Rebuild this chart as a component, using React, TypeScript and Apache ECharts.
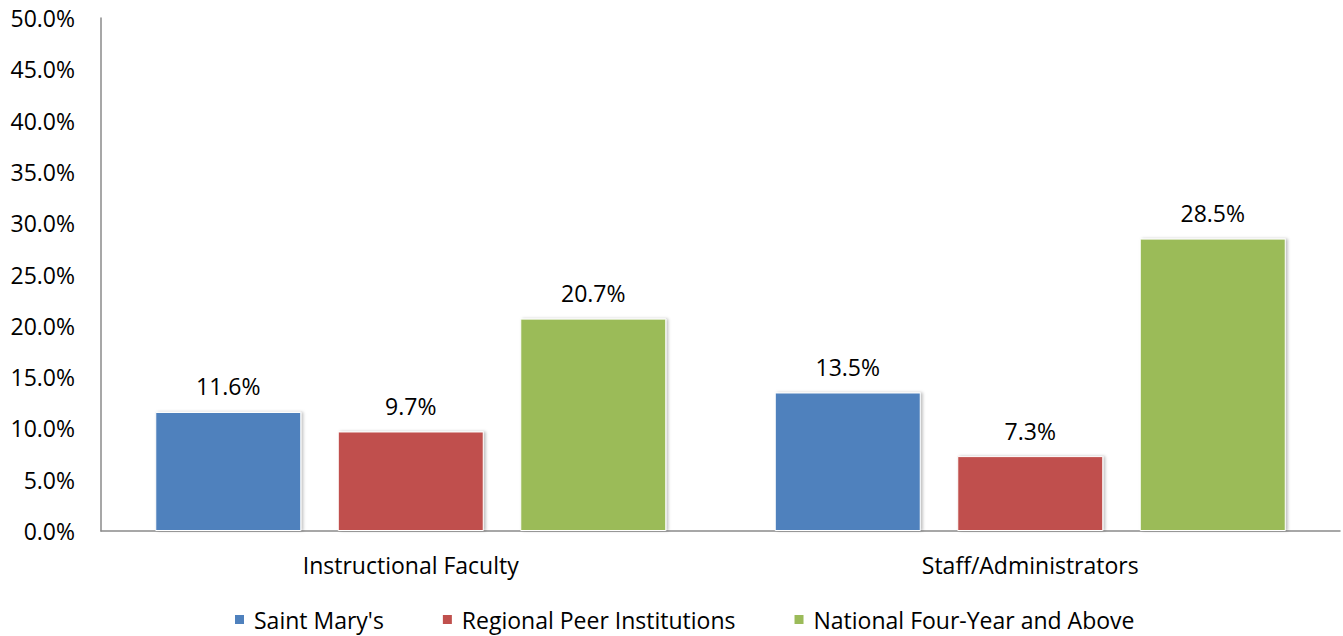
import React, { useEffect, useRef } from "react";
import * as echarts from "echarts";

const categories = ["Instructional Faculty", "Staff/Administrators"];
const seriesNames = ["Saint Mary's", "Regional Peer Institutions", "National Four-Year and Above"];
const saintMarys = [11.6, 13.5];
const regionalPeer = [9.7, 7.3];
const nationalFourYear = [20.7, 28.5];
const colors = ["#4F81BD", "#C0504D", "#9BBB59"];

const FONT = "'Open Sans', sans-serif";
const FS = 23;

export default function App() {
  const ref = useRef<HTMLDivElement>(null);
  useEffect(() => {
    if (!ref.current) return;
    const chart = echarts.init(ref.current, undefined, { renderer: "svg" });
    const dataSets = [saintMarys, regionalPeer, nationalFourYear];
    chart.setOption({
      animation: false,
      textStyle: { fontFamily: FONT },
      grid: { left: 101, right: 3, top: 18, bottom: 105, containLabel: false },
      legend: {
        bottom: 0,
        left: 228,
        itemWidth: 11,
        itemHeight: 11,
        itemGap: 57,
        icon: "rect",
        textStyle: { fontFamily: FONT, fontSize: FS, color: "#000", padding: [0, 0, 0, 4] },
        data: seriesNames,
      },
      xAxis: {
        type: "category",
        data: categories,
        axisTick: { show: false },
        axisLine: { lineStyle: { color: "#8a8a8a", width: 1.5 } },
        axisLabel: { fontFamily: FONT, fontSize: FS, color: "#000", margin: 22 },
      },
      yAxis: {
        type: "value",
        min: 0,
        max: 50,
        interval: 5,
        axisLine: { show: true, lineStyle: { color: "#8a8a8a", width: 1.5 } },
        axisTick: { show: false },
        splitLine: { show: false },
        axisLabel: {
          fontFamily: FONT,
          fontSize: FS,
          color: "#000",
          margin: 26,
          formatter: (v: number) => v.toFixed(1) + "%",
        },
      },
      series: seriesNames.map((name, i) => ({
        name,
        type: "bar",
        data: dataSets[i],
        barWidth: 146,
        barGap: "25%",
        itemStyle: {
          color: colors[i],
          borderColor: "#ffffff",
          borderWidth: 1,
          shadowColor: "rgba(0,0,0,0.25)",
          shadowBlur: 3,
          shadowOffsetX: 2,
          shadowOffsetY: 0,
        },
        label: {
          show: true,
          position: "top",
          distance: 14,
          fontFamily: FONT,
          fontSize: FS,
          color: "#000",
          formatter: (p: any) => p.value.toFixed(1) + "%",
        },
      })),
    });
    return () => chart.dispose();
  }, []);
  return <div ref={ref} style={{ width: 1343, height: 636, position: "absolute", left: 0, top: 0 }} />;
}
